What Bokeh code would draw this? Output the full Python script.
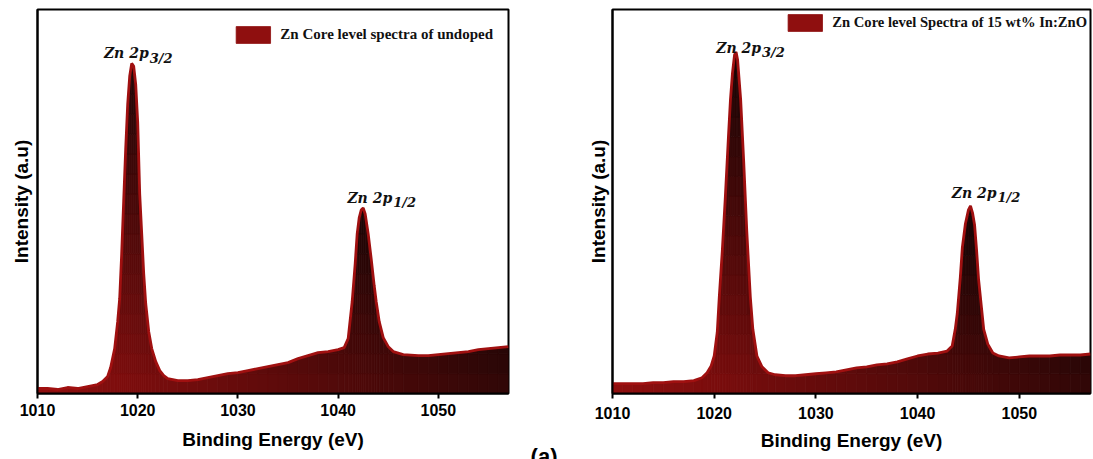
import numpy as np
from bokeh.plotting import figure
from bokeh.models import Range1d, Legend, LegendItem, ColumnDataSource, Title
from bokeh.layouts import row
from bokeh.embed import file_html
from bokeh.resources import INLINE
from bokeh.core.properties import value

# ---------------- data ----------------
energy_undoped = [1010.0, 1011.0, 1012.0, 1013.0, 1014.0, 1015.0, 1016.0, 1016.5, 1017.0, 1017.3,
                  1017.7, 1018.0, 1018.2, 1018.4, 1018.6, 1018.8, 1019.0, 1019.2, 1019.4, 1019.6,
                  1019.8, 1020.0, 1020.2, 1020.4, 1020.6, 1020.8, 1021.1, 1021.4, 1021.8, 1022.2,
                  1022.6, 1023.0, 1024.0, 1025.0, 1026.0, 1027.0, 1028.0, 1029.0, 1030.0, 1031.0,
                  1032.0, 1033.0, 1034.0, 1035.0, 1036.0, 1037.0, 1038.0, 1039.0, 1040.0, 1040.6,
                  1041.0, 1041.4, 1041.7, 1041.9, 1042.1, 1042.3, 1042.5, 1042.7, 1043.0, 1043.3,
                  1043.6, 1043.8, 1044.1, 1044.5, 1045.0, 1045.5, 1046.5, 1048.0, 1049.0, 1050.0,
                  1051.0, 1052.0, 1053.0, 1054.0, 1055.0, 1056.0, 1057.0]
intensity_undoped = [5, 5, 4, 6, 5, 7, 9, 12, 17, 26,
                     45, 72, 95, 140, 193, 245, 290, 318, 331, 328,
                     310, 272, 200, 160, 120, 90, 62, 45, 32, 23,
                     18, 15, 13, 13, 14, 16, 18, 20, 21, 23,
                     25, 27, 29, 31, 35, 38, 41, 42, 44, 46,
                     55, 92, 130, 160, 176, 184, 186, 180, 160, 135,
                     108, 92, 72, 56, 47, 42, 39, 38, 38, 39,
                     40, 41, 42, 44, 45, 46, 47]

energy_doped = [1010.0, 1011.0, 1012.0, 1013.0, 1014.0, 1015.0, 1016.0, 1017.0, 1018.0, 1018.8,
                1019.3, 1019.7, 1020.0, 1020.3, 1020.5, 1020.8, 1021.1, 1021.4, 1021.6, 1021.8,
                1022.0, 1022.15, 1022.3, 1022.6, 1022.9, 1023.2, 1023.55, 1023.8, 1024.2, 1024.7,
                1025.3, 1026.0, 1027.0, 1028.0, 1029.0, 1030.0, 1031.0, 1032.0, 1033.0, 1034.0,
                1035.0, 1036.0, 1037.0, 1038.0, 1039.0, 1040.0, 1041.0, 1042.0, 1042.9, 1043.4,
                1043.7, 1043.9, 1044.2, 1044.4, 1044.7, 1045.0, 1045.2, 1045.4, 1045.6, 1045.8,
                1046.0, 1046.3, 1046.5, 1046.9, 1047.4, 1048.0, 1049.0, 1050.0, 1051.0, 1052.0,
                1053.0, 1054.0, 1055.0, 1056.0, 1057.0]
intensity_doped = [10, 10, 10, 10, 11, 11, 12, 12, 13, 16,
                   21, 28, 38, 62, 98, 145, 200, 260, 298, 325,
                   343, 346, 338, 298, 235, 165, 98, 65, 38, 27,
                   21, 19, 18, 18, 19, 20, 21, 22, 24, 26,
                   27, 29, 30, 32, 35, 38, 40, 41, 43, 48,
                   65, 81, 118, 148, 172, 186, 190, 183, 171, 145,
                   115, 85, 65, 50, 41, 38, 36, 37, 38, 38,
                   38, 39, 39, 39, 40]

legend_labels = ["Zn Core level spectra of undoped",
                 "Zn Core level Spectra of 15 wt% In:ZnO"]
peak_main = "Zn 2p"
peak_subs = ["3/2", "1/2"]
x_ticks = [1010, 1020, 1030, 1040, 1050]
x_label = "Binding Energy (eV)"
y_label = "Intensity (a.u)"
panel_tag = "(a)"

# ---------------- styling ----------------
RED = np.array([145, 15, 15])
DARK = np.array([14, 4, 4])
OUTLINE = "#a01010"
SERIF = "Liberation Serif"
SANS = "Liberation Sans"


def grad_color(x, y, xmin=1010.0, xmax=1057.0):
    t = 0.72 * (x - xmin) / (xmax - xmin) + 0.7 * y / 330.0
    t = min(max(t, 0.0), 1.0)
    c = RED * (1 - t) + DARK * t
    return "#%02x%02x%02x" % tuple(int(round(v)) for v in c)


def gradient_patches(xs, ys, band=20.0):
    pxs, pys, cols = [], [], []
    for i in range(len(xs) - 1):
        x0, x1, y0, y1 = xs[i], xs[i + 1], ys[i], ys[i + 1]
        xm = 0.5 * (x0 + x1)
        lo = min(y0, y1)
        b = 0.0
        while b + band < lo:
            pxs.append([x0, x1, x1, x0])
            pys.append([b, b, b + band, b + band])
            cols.append(grad_color(xm, b + band / 2))
            b += band
        pxs.append([x0, x1, x1, x0])
        pys.append([b, b, y1, y0])
        cols.append(grad_color(xm, 0.5 * (b + 0.5 * (y0 + y1))))
    return ColumnDataSource(dict(xs=pxs, ys=pys, c=cols))


def make_panel(xs, ys, label, width, bl, br, bt, bb, ytop, lab_offsets,
               leg_margin, ylab_standoff, xlab_standoff, tick_standoff):
    p = figure(width=width, height=459, output_backend="svg", toolbar_location=None,
               x_range=Range1d(1010, 1057), y_range=Range1d(0, ytop),
               min_border_left=bl, min_border_right=br, min_border_top=bt,
               min_border_bottom=bb)
    p.background_fill_color = "white"
    p.border_fill_color = "white"
    p.grid.visible = False
    p.outline_line_color = "black"
    p.outline_line_width = 2

    src = gradient_patches(xs, ys)
    pr = p.patches("xs", "ys", source=src, fill_color="c", line_color="c", line_width=0.8)
    p.line(xs, ys, line_color=OUTLINE, line_width=2.8)

    # axes
    xa = p.xaxis[0]
    xa.ticker = x_ticks
    xa.ticker.num_minor_ticks = 2
    xa.axis_line_width = 2
    xa.major_tick_line_width = 2
    xa.minor_tick_line_width = 2
    xa.major_tick_in = 0
    xa.major_tick_out = 5
    xa.minor_tick_in = 0
    xa.minor_tick_out = 5
    xa.major_label_text_font = SANS
    xa.major_label_text_font_style = "bold"
    xa.major_label_text_font_size = "16px"
    xa.major_label_text_color = "black"
    xa.major_label_standoff = tick_standoff
    xa.axis_label = x_label
    xa.axis_label_text_font = SANS
    xa.axis_label_text_font_style = "bold"
    xa.axis_label_text_font_size = "19px"
    xa.axis_label_text_color = "black"
    xa.axis_label_standoff = xlab_standoff

    ya = p.yaxis[0]
    ya.ticker = []
    ya.major_label_text_font_size = "0px"
    ya.major_tick_out = 0
    ya.minor_tick_out = 0
    ya.major_label_standoff = 0
    ya.axis_line_width = 2
    ya.axis_label = y_label
    ya.axis_label_text_font = SANS
    ya.axis_label_text_font_style = "bold"
    ya.axis_label_text_font_size = "19px"
    ya.axis_label_text_color = "black"
    ya.axis_label_standoff = ylab_standoff

    # peak labels
    xs_a = np.array(xs)
    ys_a = np.array(ys)
    halves = [xs_a < 1030, xs_a >= 1030]
    for k, mask in enumerate(halves):
        idx = np.where(mask)[0][np.argmax(ys_a[mask])]
        px, py = xs_a[idx], ys_a[idx]
        dx, dy = lab_offsets[k]
        p.text([px], [py], text=[peak_main], text_align="right", text_baseline="alphabetic",
               x_offset=dx, y_offset=-dy, text_font=value("DejaVu Serif"),
               text_font_style="bold italic", text_font_size="14px", text_color="#111111")
        p.text([px], [py], text=[peak_subs[k]], text_align="left", text_baseline="alphabetic",
               x_offset=dx + 1, y_offset=-dy + 5, text_font=value("DejaVu Serif"),
               text_font_style="bold italic", text_font_size="13px", text_color="#111111")

    leg = Legend(items=[LegendItem(label=label, renderers=[pr], index=0)],
                 location="top_right", padding=0, margin=leg_margin[0],
                 glyph_width=43, glyph_height=21, label_height=21,
                 label_standoff=6, border_line_color=None,
                 background_fill_alpha=0.0,
                 label_text_font=SERIF, label_text_font_style="bold",
                 label_text_font_size=leg_margin[1], label_text_color="#111111")
    p.add_layout(leg)
    return p


left = make_panel(energy_undoped, intensity_undoped, legend_labels[0],
                  560, 37, 52, 8, 66, 385,
                  lab_offsets=[(17, 10), (29, 10)], leg_margin=(15, "15px"),
                  ylab_standoff=6, xlab_standoff=10, tick_standoff=5)
right = make_panel(energy_doped, intensity_doped, legend_labels[1],
                   533, 52, 3, 9, 61, 389,
                   lab_offsets=[(25, 4), (26, 13)], leg_margin=(3, "14.6px"),
                   ylab_standoff=4, xlab_standoff=8, tick_standoff=8)

# panel tag, mostly cut off at the bottom edge as in the source figure
try:
    tag = Title(text=panel_tag, align="right", offset=-49, standoff=-22,
                text_font=SANS, text_font_style="bold", text_font_size="22px",
                text_color="black")
    left.add_layout(tag, "below")
except Exception:
    pass

layout = row(left, right)
open("out.html", "w").write(file_html(layout, INLINE))
